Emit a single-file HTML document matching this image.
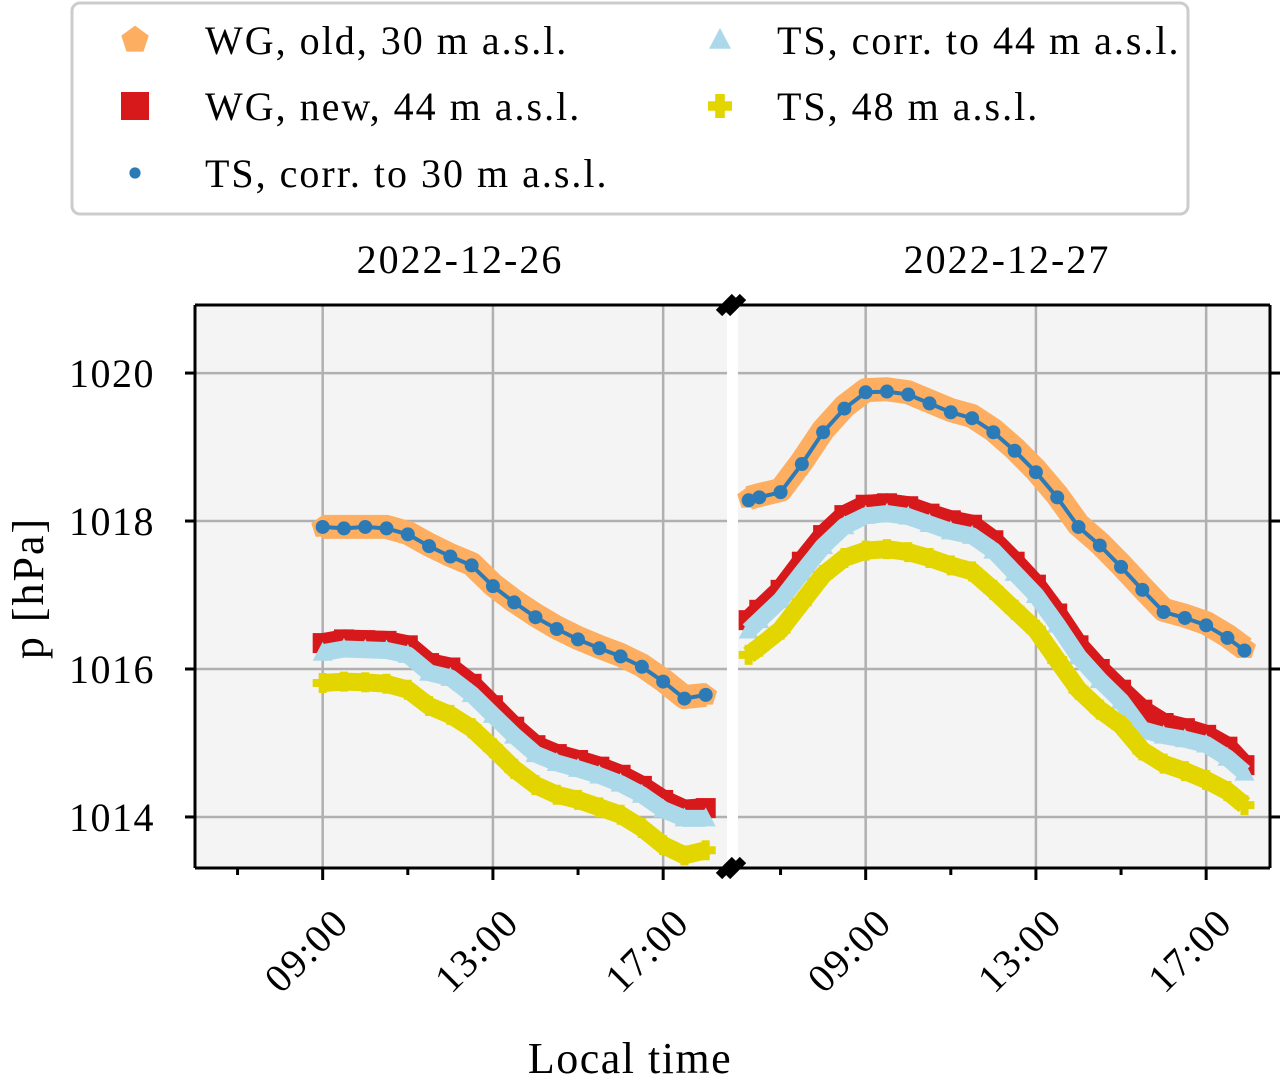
<!DOCTYPE html>
<html><head><meta charset="utf-8"><style>
body{margin:0;background:#fff}
svg text{font-family:"Liberation Serif",serif;fill:#000}
</style></head><body>
<svg id="c" width="1288" height="1077" viewBox="0 0 1288 1077" xmlns="http://www.w3.org/2000/svg"></svg>
<script>
const leftTimes=[9,9.5,10,10.5,11,11.5,12,12.5,13,13.5,14,14.5,15,15.5,16,16.5,17,17.5,18];
const leftWGold=[1017.92,1017.92,1017.92,1017.92,1017.84,1017.68,1017.54,1017.42,1017.14,1016.92,1016.73,1016.56,1016.42,1016.3,1016.19,1016.05,1015.85,1015.62,1015.65];
const leftWGnew=[1016.35,1016.4,1016.39,1016.38,1016.32,1016.08,1016.02,1015.8,1015.51,1015.22,1014.97,1014.85,1014.77,1014.68,1014.57,1014.42,1014.23,1014.1,1014.12];
const leftTS30=[1017.92,1017.9,1017.92,1017.9,1017.82,1017.66,1017.52,1017.4,1017.12,1016.9,1016.7,1016.54,1016.4,1016.28,1016.17,1016.03,1015.83,1015.6,1015.65];
const leftTS44=[1016.22,1016.27,1016.26,1016.25,1016.19,1015.95,1015.88,1015.66,1015.38,1015.1,1014.85,1014.73,1014.65,1014.56,1014.45,1014.3,1014.1,1013.98,1013.98];
const leftTS48=[1015.81,1015.83,1015.82,1015.8,1015.72,1015.5,1015.38,1015.2,1014.93,1014.65,1014.43,1014.3,1014.23,1014.13,1014.03,1013.85,1013.62,1013.48,1013.55];
const rightTimes=[6.25,6.5,7,7.5,8,8.5,9,9.5,10,10.5,11,11.5,12,12.5,13,13.5,14,14.5,15,15.5,16,16.5,17,17.5,17.9];
const rightWGold=[1018.31,1018.35,1018.42,1018.8,1019.23,1019.55,1019.77,1019.78,1019.74,1019.62,1019.5,1019.42,1019.23,1018.98,1018.69,1018.35,1017.95,1017.7,1017.41,1017.1,1016.8,1016.72,1016.62,1016.45,1016.28];
const rightWGnew=[1016.66,1016.8,1017.07,1017.45,1017.81,1018.08,1018.22,1018.24,1018.2,1018.1,1018.01,1017.95,1017.74,1017.45,1017.14,1016.75,1016.32,1016.0,1015.72,1015.45,1015.27,1015.2,1015.11,1014.95,1014.7];
const rightTS30=[1018.28,1018.32,1018.39,1018.77,1019.2,1019.52,1019.74,1019.75,1019.71,1019.59,1019.47,1019.39,1019.2,1018.95,1018.66,1018.32,1017.92,1017.67,1017.38,1017.07,1016.77,1016.69,1016.59,1016.42,1016.25];
const rightTS44=[1016.52,1016.66,1016.93,1017.3,1017.66,1017.93,1018.07,1018.1,1018.06,1017.96,1017.86,1017.8,1017.6,1017.3,1017.0,1016.6,1016.17,1015.85,1015.57,1015.18,1015.1,1015.05,1014.98,1014.8,1014.6];
const rightTS48=[1016.19,1016.3,1016.53,1016.9,1017.27,1017.5,1017.6,1017.62,1017.58,1017.5,1017.4,1017.32,1017.07,1016.8,1016.53,1016.12,1015.72,1015.45,1015.24,1014.9,1014.72,1014.62,1014.5,1014.35,1014.16];
const yTicks=[1014,1016,1018,1020];
const xMajor=[9,13,17];
const xMinor=[7,11,15];
const xTickLabels=["09:00","13:00","17:00"];

const NS="http://www.w3.org/2000/svg";
const svg=document.getElementById('c');
function mk(tag,attrs,parent){const e=document.createElementNS(NS,tag);for(const k in attrs)e.setAttribute(k,attrs[k]);(parent||svg).appendChild(e);return e;}
const T=305,B=868,yMin=1013.31,yMax=1020.92;
function y(p){return B-(p-yMin)/(yMax-yMin)*(B-T);}
const panels=[{x0:195,x1:727,t:leftTimes,s:[leftWGold,leftWGnew,leftTS30,leftTS44,leftTS48],title:"2022-12-26",name:"left"},
{x0:738,x1:1270,t:rightTimes,s:[rightWGold,rightWGnew,rightTS30,rightTS44,rightTS48],title:"2022-12-27",name:"right"}];
const colors=["#fdae61","#d7191c","#2c7bb6","#abd9e9","#e3d600"];
const lw=[24,20,4,17,18];
function marker(k,cx,cy,g,s){
  s=s||1;
  if(k===0){let pts=[];for(let i=0;i<5;i++){const a=-Math.PI/2+i*2*Math.PI/5;pts.push((cx+12*s*Math.cos(a)).toFixed(1)+","+(cy+12*s*Math.sin(a)).toFixed(1));}mk('polygon',{points:pts.join(' '),fill:colors[0]},g);}
  else if(k===1){mk('rect',{x:cx-10*s,y:cy-10*s,width:20*s,height:20*s,fill:colors[1]},g);}
  else if(k===2){mk('circle',{cx:cx,cy:cy,r:7*s,fill:colors[2]},g);}
  else if(k===3){mk('polygon',{points:`${cx},${cy-11*s} ${cx+10*s},${cy+8*s} ${cx-10*s},${cy+8*s}`,fill:colors[3]},g);}
  else {const a=4*s,b=10*s;mk('path',{d:`M${cx-a} ${cy-b}h${2*a}v${b-a}h${b-a}v${2*a}h${a-b}v${b-a}h${-2*a}v${a-b}h${a-b}v${-2*a}h${b-a}z`,fill:colors[4]},g);}
}
const seriesNames=["wg-old-30m","wg-new-44m","ts-corr-30m","ts-corr-44m","ts-48m"];
panels.forEach(P=>{
  const x=h=>P.x0+(h-6)/(18.5-6)*(P.x1-P.x0);
  const bg=mk('rect',{x:P.x0,y:T,width:P.x1-P.x0,height:B-T,fill:'#f4f4f4'});
  
  const grid=mk('g',{stroke:'#b0b0b0','stroke-width':2.5});
  
  yTicks.forEach(v=>mk('line',{x1:P.x0,x2:P.x1,y1:y(v),y2:y(v)},grid));
  xMajor.forEach(v=>mk('line',{x1:x(v),x2:x(v),y1:T,y2:B},grid));
  P.s.forEach((arr,k)=>{
    const g=mk('g',{});
    
    const pts=arr.map((v,i)=>x(P.t[i]).toFixed(1)+","+y(v).toFixed(1)).join(' ');
    mk('polyline',{points:pts,fill:'none',stroke:colors[k],'stroke-width':lw[k],'stroke-linejoin':'round'},g);
    arr.forEach((v,i)=>marker(k,x(P.t[i]),y(v),g));
  });
  const ax=mk('g',{stroke:'#000','stroke-width':3,fill:'none'});
  
  mk('line',{x1:P.x0,x2:P.x1,y1:T,y2:T},ax);
  mk('line',{x1:P.x0,x2:P.x1,y1:B,y2:B},ax);
  const sx=P.name==='left'?P.x0:P.x1, dir=P.name==='left'?-1:1;
  mk('line',{x1:sx,x2:sx,y1:T,y2:B},ax);
  yTicks.forEach(v=>mk('line',{x1:sx,x2:sx+dir*10,y1:y(v),y2:y(v)},ax));
  xMajor.forEach(v=>mk('line',{x1:x(v),x2:x(v),y1:B,y2:B+12},ax));
  xMinor.forEach(v=>mk('line',{x1:x(v),x2:x(v),y1:B,y2:B+7},ax));
  xMajor.forEach((v,i)=>{const tx=x(v)+28,ty=925;const t=mk('text',{x:tx,y:ty,'font-size':40,'letter-spacing':1.5,'text-anchor':'end',transform:`rotate(-45 ${tx} ${ty})`});t.textContent=xTickLabels[i];
    });
  const tt=mk('text',{x:(P.x0+P.x1)/2+(P.name==='left'?-1:3),y:273,'font-size':40,'letter-spacing':2,'text-anchor':'middle'});tt.textContent=P.title;
  
});
yTicks.forEach(v=>{const t=mk('text',{x:155,y:y(v)+14,'font-size':40,'letter-spacing':1.5,'text-anchor':'end'});t.textContent=v;
  });
const br=mk('g',{stroke:'#000','stroke-width':9});

[T,B].forEach(yy=>{mk('line',{x1:719,y1:yy+8,x2:735,y2:yy-8},br);mk('line',{x1:727,y1:yy+8,x2:743,y2:yy-8},br);});
const xl=mk('text',{x:630,y:1073,'font-size':44,'letter-spacing':1.5,'text-anchor':'middle'});xl.textContent="Local time";

const yl=mk('text',{x:43,y:588,'font-size':44,'letter-spacing':2,'text-anchor':'middle',transform:'rotate(-90 43 588)'});yl.textContent="p [hPa]";

const lg=mk('g',{});

mk('rect',{x:72,y:3,width:1116,height:211,rx:8,fill:'#fff',stroke:'#cccccc','stroke-width':3},lg);
const legendLabels=["WG, old, 30 m a.s.l.","WG, new, 44 m a.s.l.","TS, corr. to 30 m a.s.l.","TS, corr. to 44 m a.s.l.","TS, 48 m a.s.l."];
const legPos=[[135,40],[135,106],[135,173],[720,40],[720,106]];
const legScale=[1.2,1.4,0.8,1.1,1.2];
legendLabels.forEach((s,k)=>{
  const g=mk('g',{},lg);
  
  const [mx,my]=legPos[k];
  marker(k,mx,my,g,legScale[k]);
  const t=mk('text',{x:mx+(k<3?70:57),y:my+14,'font-size':40,'letter-spacing':2},g);t.textContent=s;
});
</script>
</body></html>
